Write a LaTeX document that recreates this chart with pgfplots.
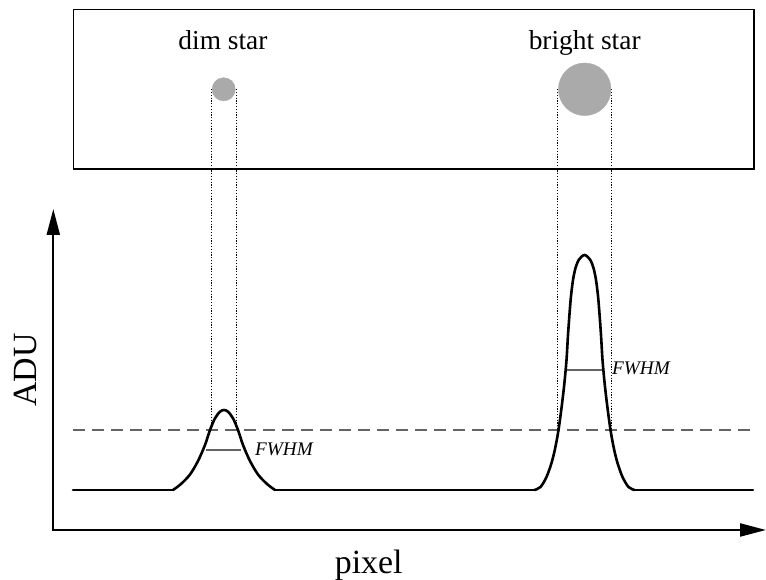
\documentclass[border=0pt]{standalone}
\usepackage{fontspec}
\setmainfont{Liberation Serif}
\usepackage{pgfplots}
\pgfplotsset{compat=1.18}
\usetikzlibrary{arrows.meta}
\definecolor{stargray}{RGB}{170,170,170}
\definecolor{dashgray}{RGB}{100,100,100}
\begin{document}
\begin{tikzpicture}
\begin{axis}[
  width=766bp, height=580bp, scale only axis,
  xmin=0, xmax=766, ymin=0, ymax=580,
  hide axis, clip=false,
]
% image frame
\addplot[black, line width=1.2bp, line cap=square] coordinates {(73.5,570.5)(754,570.5)(754,411)(73.5,411)(73.5,570.5)};
% stars
\addplot[only marks, mark=*, mark size=11.6bp, mark options={fill=stargray, draw=stargray, line width=0.4bp}] coordinates {(223.7,490.7)};
\addplot[only marks, mark=*, mark size=26.3bp, mark options={fill=stargray, draw=stargray, line width=0.4bp}] coordinates {(584.7,490.7)};
% dotted projection lines
\addplot[black, line width=0.9bp, dash pattern=on 1.2bp off 1.6bp] coordinates {(211.7,490.7)(211.7,150)};
\addplot[black, line width=0.9bp, dash pattern=on 1.2bp off 1.6bp] coordinates {(236.3,490.7)(236.3,150)};
\addplot[black, line width=0.9bp, dash pattern=on 1.2bp off 1.6bp] coordinates {(557.7,490.7)(557.7,150)};
\addplot[black, line width=0.9bp, dash pattern=on 1.2bp off 1.6bp] coordinates {(611.3,490.7)(611.3,150)};
% threshold
\addplot[dashgray, line width=1.3bp, dash pattern=on 12bp off 7bp] coordinates {(73,150)(753,150)};
% FWHM bars
\addplot[dashgray, line width=1.3bp] coordinates {(206,130)(241,130)};
\addplot[dashgray, line width=1.3bp] coordinates {(566,210)(604,210)};
% profile: baseline segments
\addplot[black, line width=2.6bp, line cap=round] coordinates {(73,90)(173,90)};
\addplot[black, line width=2.6bp, line cap=round] coordinates {(275,90)(534.5,90)};
\addplot[black, line width=2.6bp, line cap=round] coordinates {(634.5,90)(753,90)};
% dim star profile
\addplot[black, line width=2.6bp, smooth, line cap=round] coordinates {
(173,90)(181,96)(190,105.5)(198,119)(205,135)(210,150)(215,161.7)(220,168.3)(224,170)
(228,168.3)(233,161.7)(238,150)(243,135)(250,119)(258,105.5)(267,96)(275,90)};
% bright star profile
\addplot[black, line width=2.6bp, smooth, line cap=round] coordinates {
(534.5,90)(540.5,93)(546.5,103)(551.5,117)(555,131)(558.5,150)(562,176)(564.5,198)(566.5,220)
(568,245)(569.5,266)(571,284)(573,300)(575.5,312)(579,320.5)(584.5,325)
(590,320.5)(593.5,312)(596,300)(598,284)(599.5,266)(601,245)(602.5,220)(604.5,198)
(607,176)(610.5,150)(614,131)(617.5,117)(622.5,103)(628.5,93)(634.5,90)};
% axes
\addplot[black, line width=2.2bp, line join=miter, arrows={Triangle[length=26bp,width=13bp]-Triangle[length=26bp,width=13bp]}] coordinates {(53.3,371)(53.3,50)(766,50)};
% texts
\node[anchor=base, inner sep=0pt, font=\fontsize{27.5}{30}\selectfont] at (axis cs:223,530.7) {dim star};
\node[anchor=base, inner sep=0pt, font=\fontsize{27.5}{30}\selectfont] at (axis cs:584.7,530.7) {bright star};
\node[anchor=base west, inner sep=0pt, font=\fontsize{19.3}{22}\selectfont\itshape] at (axis cs:255,124) {FWHM};
\node[anchor=base west, inner sep=0pt, font=\fontsize{19.3}{22}\selectfont\itshape] at (axis cs:612,205) {FWHM};
\node[rotate=90, anchor=base, inner sep=0pt, font=\fontsize{34}{38}\selectfont] at (axis cs:36.7,210) {ADU};
\node[anchor=base, inner sep=0pt, font=\fontsize{34}{38}\selectfont] at (axis cs:368.7,6.7) {pixel};
\end{axis}
\pgfresetboundingbox
\path (current axis.south west) rectangle (current axis.north east);
\end{tikzpicture}
\end{document}
